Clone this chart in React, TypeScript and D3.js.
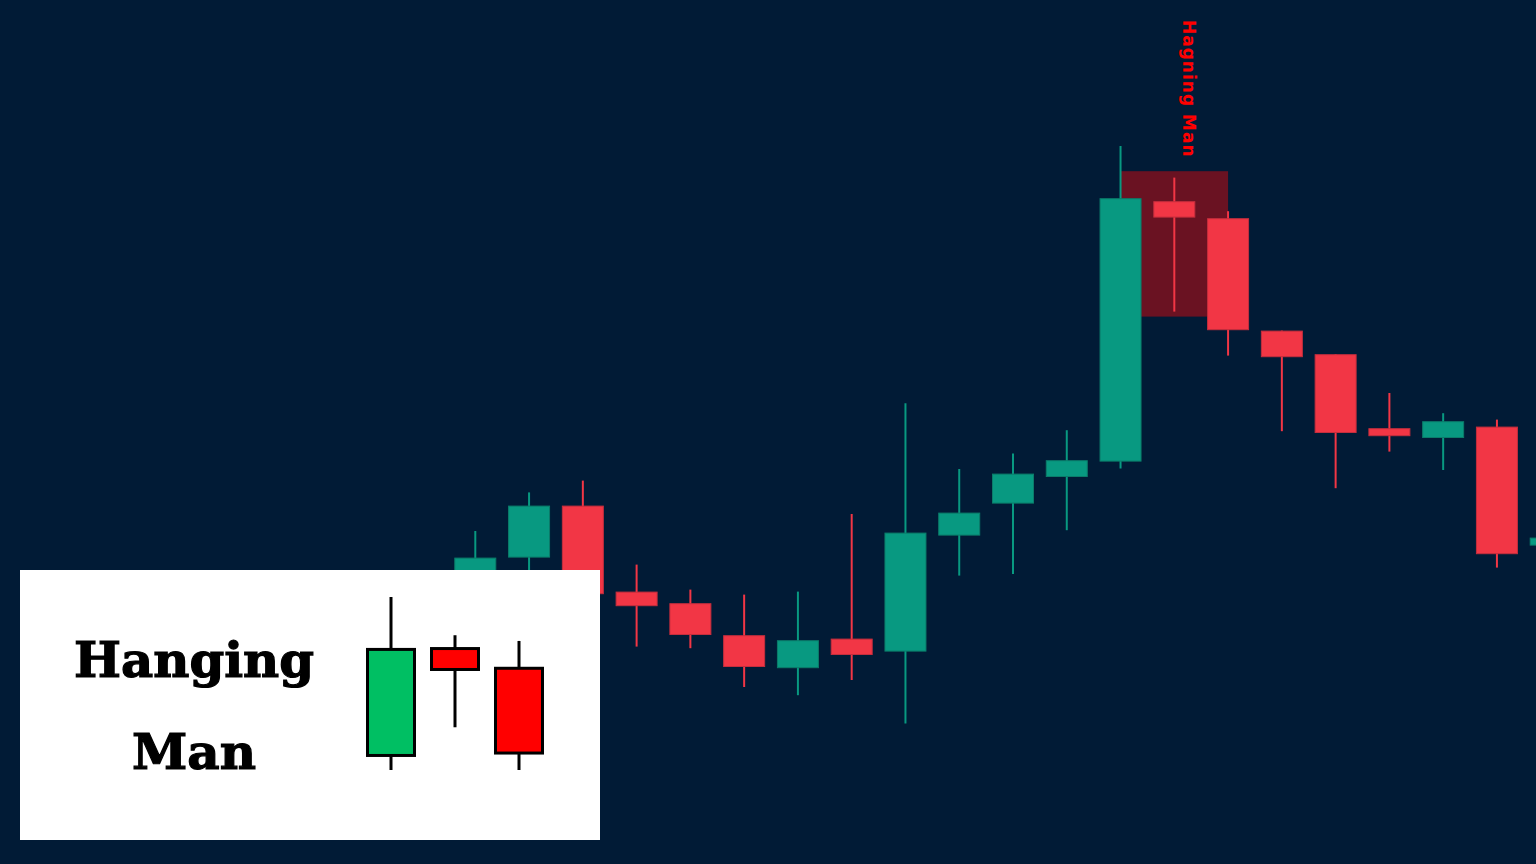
import React from "react";
import * as d3 from "d3";

// ---- Main chart data (OHLC) ----
const candleIndex = [0,1,2,3,4,5,6,7,8,9,10,11,12,13,14,15,16,17,18,19,20];
const openVals  = [34.10,35.32,37.92,33.62,33.04,31.44,29.79,31.27,30.62,36.42,38.02,39.35,40.12,53.14,52.29,46.67,45.49,41.79,41.30,41.87,35.92];
const highVals  = [36.65,38.58,39.17,34.97,33.72,33.47,33.62,37.50,43.04,39.75,40.52,41.69,55.90,54.32,52.64,46.67,45.49,43.55,42.54,42.22,36.40];
const lowVals   = [33.40,34.45,33.20,30.87,30.79,28.85,28.44,29.20,27.02,34.42,34.50,36.69,39.77,47.62,45.42,41.64,38.79,40.62,39.70,34.82,35.60];
const closeVals = [35.32,37.92,33.49,32.89,31.45,29.85,31.19,30.45,36.57,37.57,39.52,40.19,53.29,52.32,46.69,45.34,41.55,41.39,42.14,35.49,36.32];

// Pattern highlight
const patternLabel = "Hagning Man";
const patternFrom = 12;
const patternTo = 14;
const patternTop = 54.64;
const patternBottom = 47.37;
const patternAt = 13;

// ---- Inset icon data ----
const insetTitle = ["Hanging", "Man"];
const iconOpen  = [0.84, 7.02, 5.88];
const iconHigh  = [10.0, 7.79, 7.46];
const iconLow   = [0.0, 2.47, 0.0];
const iconClose = [6.97, 5.81, 0.98];

const W = 1536;
const H = 864;
const BG = "#011b36";
const UP = "#089981";
const DOWN = "#f23645";
const UP_EDGE = "#0b7c6a";
const DOWN_EDGE = "#c52e3d";

export default function App() {
  const x = d3.scaleLinear().domain([0, 20]).range([475.3, 1550.7]);
  const y = d3.scaleLinear().domain([20, 63.2]).range([864, 0]);
  const bodyW = 42;

  const ix = d3.scaleLinear().domain([0, 2]).range([391, 519]);
  const iy = d3.scaleLinear().domain([0, 10]).range([770, 597]);
  const iconW = 47;
  const iconColors = ["#00bf63", "#ff0000", "#ff0000"];

  const candles = candleIndex.map((i) => ({
    i,
    o: openVals[i],
    h: highVals[i],
    l: lowVals[i],
    c: closeVals[i],
  }));

  return (
    <svg
      width={W}
      height={H}
      style={{ position: "absolute", left: 0, top: 0, display: "block" }}
    >
      <rect x={0} y={0} width={W} height={H} fill={BG} />

      {/* pattern highlight */}
      <rect
        x={x(patternFrom)}
        y={y(patternTop)}
        width={x(patternTo) - x(patternFrom)}
        height={y(patternBottom) - y(patternTop)}
        fill="#6a1222"
      />

      {candles.map((d) => {
        const up = d.c >= d.o;
        const col = up ? UP : DOWN;
        const edge = up ? UP_EDGE : DOWN_EDGE;
        const top = y(Math.max(d.o, d.c));
        const bot = y(Math.min(d.o, d.c));
        const cx = x(d.i);
        return (
          <g key={d.i}>
            <line x1={cx} x2={cx} y1={y(d.h)} y2={y(d.l)} stroke={col} strokeWidth={2} />
            <rect
              x={cx - bodyW / 2 + 0.5}
              y={top + 0.5}
              width={bodyW - 1}
              height={Math.max(1, bot - top - 1)}
              fill={col}
              stroke={edge}
              strokeWidth={1}
            />
          </g>
        );
      })}

      {/* pattern label */}
      <text
        transform={`translate(${x(patternAt) + 8.5},20) rotate(90)`}
        fontFamily="DejaVu Sans"
        fontWeight="bold"
        fontSize={17}
        letterSpacing={1}
        fill="#ff0000"
      >
        {patternLabel}
      </text>

      {/* inset */}
      <rect x={20} y={570} width={580} height={270} fill="#ffffff" />
      <text
        x={194}
        y={677}
        textAnchor="middle"
        fontFamily="DejaVu Serif"
        fontWeight="bold"
        fontSize={48}
        textLength={240}
        lengthAdjust="spacingAndGlyphs"
        fill="#000"
        stroke="#000"
        strokeWidth={1.2}
      >
        {insetTitle[0]}
      </text>
      <text
        x={194}
        y={769}
        textAnchor="middle"
        fontFamily="DejaVu Serif"
        fontWeight="bold"
        fontSize={48}
        textLength={124}
        lengthAdjust="spacingAndGlyphs"
        fill="#000"
        stroke="#000"
        strokeWidth={1.2}
      >
        {insetTitle[1]}
      </text>
      {iconOpen.map((o, k) => {
        const c = iconClose[k];
        const top = iy(Math.max(o, c));
        const bot = iy(Math.min(o, c));
        const cx = ix(k);
        return (
          <g key={k}>
            <line x1={cx} x2={cx} y1={iy(iconHigh[k])} y2={iy(iconLow[k])} stroke="#000" strokeWidth={3} />
            <rect
              x={cx - iconW / 2}
              y={top}
              width={iconW}
              height={bot - top}
              fill={iconColors[k]}
              stroke="#000"
              strokeWidth={3}
            />
          </g>
        );
      })}
    </svg>
  );
}
